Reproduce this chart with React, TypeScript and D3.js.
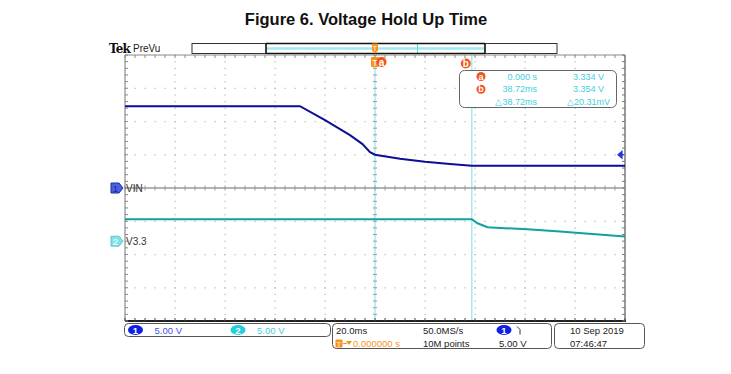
import React, { useEffect, useRef } from "react";
import * as d3 from "d3";

// scope settings
const msPerDiv = 20;
const voltsPerDiv = [5, 5];
const chPosition = [0, -1.6]; // divisions from centre

// channel 1 (VIN) trace
const vinTime = [-100, -30, -20, -10, -5, -2, 0, 10, 20, 30, 38.72, 100];
const vinVolts = [12.3, 12.3, 10.2, 7.95, 6.6, 5.4, 5.0, 4.4, 3.95, 3.6, 3.35, 3.35];

// channel 2 (V3.3) trace
const v33Time = [-100, 38.72, 41, 45, 52, 61, 74, 83, 100];
const v33Volts = [3.3, 3.3, 2.7, 2.1, 1.95, 1.8, 1.45, 1.2, 0.7];

// cursors
const cursorTimes = [0, 38.72];
const cursorNames = ["a", "b"];
const readoutTime = ["0.000 s", "38.72ms", "\u25b338.72ms"];
const readoutVolts = ["3.334 V", "3.354 V", "\u25b320.31mV"];
const triggerLevel = 5.0;

const W = 731;
const H = 374;
const FONT = "'Liberation Sans', Arial, sans-serif";

export default function App() {
  const svgRef = useRef<SVGSVGElement>(null);

  useEffect(() => {
    const svg = d3.select(svgRef.current);
    svg.selectAll("*").remove();

    const x = d3.scaleLinear().domain([-5 * msPerDiv, 5 * msPerDiv]).range([125, 625]);
    const yDiv = d3.scaleLinear().domain([-4, 4]).range([321, 55]);
    const yCh = (ch: number) => (v: number) => yDiv(v / voltsPerDiv[ch] + chPosition[ch]);

    const left = x.range()[0], right = x.range()[1];
    const top = yDiv.range()[1], bottom = yDiv.range()[0];
    const minorX = d3.range(-5, 5.001, 0.2).map((d) => x(d * msPerDiv));
    const minorY = d3.range(-4, 4.001, 0.2).map((d) => yDiv(d));

    svg.append("rect").attr("width", W).attr("height", H).attr("fill", "white");

    // title
    svg.append("text")
      .attr("x", 366).attr("y", 25)
      .attr("text-anchor", "middle")
      .attr("font-family", FONT).attr("font-weight", "bold").attr("font-size", 16.5)
      .attr("fill", "#111")
      .text("Figure 6. Voltage Hold Up Time");

    // Tek PreVu
    svg.append("text").attr("x", 109).attr("y", 52.5)
      .attr("font-family", "'DejaVu Serif', serif").attr("font-weight", "bold")
      .attr("font-size", 12).attr("letter-spacing", -0.8).attr("fill", "#111").text("Tek");
    svg.append("text").attr("x", 133).attr("y", 52)
      .attr("font-family", FONT).attr("font-size", 10).attr("fill", "#222").text("PreVu");

    // record view bar
    const bar = svg.append("g");
    bar.append("rect").attr("x", 192).attr("y", 43.5).attr("width", 365).attr("height", 10)
      .attr("fill", "white").attr("stroke", "#333").attr("stroke-width", 1);
    bar.append("line").attr("x1", 266).attr("x2", 485).attr("y1", 48.5).attr("y2", 48.5)
      .attr("stroke", "#9feaf0").attr("stroke-width", 2.5);
    bar.append("line").attr("x1", 417.5).attr("x2", 417.5).attr("y1", 44).attr("y2", 53)
      .attr("stroke", "#5cd6e0").attr("stroke-width", 1);
    bar.append("path")
      .attr("d", "M266,43.5H485M266,53.5H485M266,43.5V53.5M485,43.5V53.5")
      .attr("stroke", "#111").attr("stroke-width", 1.6).attr("fill", "none");

    // grid dots
    const grid = svg.append("g").attr("fill", "#b4b4b4");
    d3.range(-4, 5).forEach((dv) => {
      if (dv === 0) return;
      minorY.forEach((yy) => {
        grid.append("rect").attr("x", x(dv * msPerDiv) - 0.5).attr("y", yy - 0.5)
          .attr("width", 1.2).attr("height", 1.2);
      });
    });
    d3.range(-3, 4).forEach((dv) => {
      if (dv === 0) return;
      minorX.forEach((xx) => {
        grid.append("rect").attr("x", xx - 0.5).attr("y", yDiv(dv) - 0.5)
          .attr("width", 1.2).attr("height", 1.2);
      });
    });

    // cursors
    cursorTimes.forEach((t) => {
      svg.append("line").attr("x1", x(t)).attr("x2", x(t)).attr("y1", top).attr("y2", bottom)
        .attr("stroke", "#9ae6ee").attr("stroke-width", 1.3);
    });

    // centre crosshair
    const cross = svg.append("g").attr("stroke", "#9a9a9a");
    cross.append("line").attr("x1", left).attr("x2", right).attr("y1", yDiv(0)).attr("y2", yDiv(0))
      .attr("stroke-width", 1.6);
    minorX.forEach((xx) => {
      cross.append("line").attr("x1", xx).attr("x2", xx).attr("y1", yDiv(0) - 2.5).attr("y2", yDiv(0) + 2.5);
    });
    minorY.forEach((yy) => {
      cross.append("line").attr("x1", x(0) - 2).attr("x2", x(0) + 2).attr("y1", yy).attr("y2", yy);
    });

    // frame with ticks
    const frame = svg.append("g");
    frame.append("line").attr("x1", left).attr("x2", right).attr("y1", top).attr("y2", top)
      .attr("stroke", "#8a8a8a");
    frame.append("line").attr("x1", left).attr("x2", left).attr("y1", top).attr("y2", bottom)
      .attr("stroke", "#777");
    frame.append("line").attr("x1", right).attr("x2", right).attr("y1", top).attr("y2", bottom + 1)
      .attr("stroke", "#9a9a9a").attr("stroke-width", 2);
    frame.append("line").attr("x1", left).attr("x2", right + 1).attr("y1", bottom).attr("y2", bottom)
      .attr("stroke", "#222").attr("stroke-width", 2);
    minorX.forEach((xx) => {
      frame.append("line").attr("x1", xx).attr("x2", xx).attr("y1", top).attr("y2", top + 3)
        .attr("stroke", "#888");
      frame.append("line").attr("x1", xx).attr("x2", xx).attr("y1", bottom - 3).attr("y2", bottom)
        .attr("stroke", "#444");
    });
    minorY.forEach((yy) => {
      frame.append("line").attr("x1", left).attr("x2", left + 3).attr("y1", yy).attr("y2", yy)
        .attr("stroke", "#888");
      frame.append("line").attr("x1", right - 3).attr("x2", right).attr("y1", yy).attr("y2", yy)
        .attr("stroke", "#777");
    });

    // traces
    const traces = [
      { t: vinTime, v: vinVolts, ch: 0, color: "#0d0d96" },
      { t: v33Time, v: v33Volts, ch: 1, color: "#12a0a2" },
    ];
    traces.forEach(({ t, v, ch, color }) => {
      const yy = yCh(ch);
      const line = d3.line<number>()
        .x((_, i) => x(t[i]))
        .y((d) => yy(d));
      svg.append("path").datum(v)
        .attr("d", line)
        .attr("fill", "none")
        .attr("stroke", color)
        .attr("stroke-width", 2);
    });

    // trigger level arrow on right
    const ty = yCh(0)(triggerLevel);
    svg.append("path")
      .attr("d", `M${right - 7},${ty}l4,-3.5v7z M${right - 4},${ty}H${right - 1}`)
      .attr("fill", "#2433e0").attr("stroke", "#2433e0").attr("stroke-width", 1.2);

    // channel markers
    const markers = [
      { label: "1", name: "VIN", ch: 0, fill: "#4b5fe0", stroke: "#1d2aa0", text: "#1d2aa0" },
      { label: "2", name: "V3.3", ch: 1, fill: "#7fe3e6", stroke: "#5cc8cc", text: "#ffffff" },
    ];
    markers.forEach((m) => {
      const my = yDiv(chPosition[m.ch]);
      svg.append("path")
        .attr("d", `M111,${my - 5}h8l4,5l-4,5h-8z`)
        .attr("fill", m.fill).attr("stroke", m.stroke).attr("stroke-width", 1);
      svg.append("text").attr("x", 115.5).attr("y", my + 3.5)
        .attr("text-anchor", "middle").attr("font-family", FONT).attr("font-size", 9.5)
        .attr("fill", m.text).text(m.label);
      svg.append("text").attr("x", 126).attr("y", my + 4)
        .attr("font-family", FONT).attr("font-size", 10).attr("fill", "#333").text(m.name);
    });

    // trigger marker T and cursor labels
    const orange = "#f7941d";
    const red = "#f0541e";
    svg.append("path")
      .attr("d", `M${x(0) - 3},43.5h6v7l-3,3l-3,-3z`)
      .attr("fill", orange);
    svg.append("text").attr("x", x(0)).attr("y", 50.5).attr("text-anchor", "middle")
      .attr("font-family", FONT).attr("font-size", 7).attr("fill", "white").text("T");
    svg.append("rect").attr("x", x(0) - 4).attr("y", 57).attr("width", 8).attr("height", 10)
      .attr("rx", 1).attr("fill", orange);
    svg.append("text").attr("x", x(0)).attr("y", 65.5).attr("text-anchor", "middle")
      .attr("font-family", FONT).attr("font-size", 9).attr("fill", "white").text("T");
    const cursorLabelPos = [
      { cx: x(cursorTimes[0]) + 6.5, cy: 62 },
      { cx: x(cursorTimes[1]) - 6, cy: 63.5 },
    ];
    cursorNames.forEach((n, i) => {
      const p = cursorLabelPos[i];
      svg.append("circle").attr("cx", p.cx).attr("cy", p.cy).attr("r", 5).attr("fill", red);
      svg.append("text").attr("x", p.cx).attr("y", p.cy + 3.5).attr("text-anchor", "middle")
        .attr("font-family", FONT).attr("font-weight", "bold").attr("font-size", 10)
        .attr("fill", "white").text(n);
    });

    // cursor readout box
    const cyan = "#3fd0dc";
    svg.append("rect").attr("x", 459.5).attr("y", 70.5).attr("width", 157).attr("height", 37)
      .attr("rx", 5).attr("fill", "white").attr("stroke", "#666").attr("stroke-width", 1);
    readoutTime.forEach((txt, i) => {
      const ry = 79.5 + i * 12.8;
      if (i < 2) {
        svg.append("circle").attr("cx", 481).attr("cy", ry - 3).attr("r", 4.5).attr("fill", red);
        svg.append("text").attr("x", 481).attr("y", ry).attr("text-anchor", "middle")
          .attr("font-family", FONT).attr("font-weight", "bold").attr("font-size", 9)
          .attr("fill", "white").text(cursorNames[i]);
      }
      svg.append("text").attr("x", 537).attr("y", ry).attr("text-anchor", "end")
        .attr("font-family", FONT).attr("font-size", 9).attr("fill", cyan).text(txt);
      svg.append("text").attr("x", 604 + (i === 2 ? 6 : 0)).attr("y", ry).attr("text-anchor", "end")
        .attr("font-family", FONT).attr("font-size", 9).attr("fill", cyan).text(readoutVolts[i]);
    });

    // bottom status boxes
    const boxes = svg.append("g").attr("fill", "none").attr("stroke", "#555").attr("stroke-width", 1);
    boxes.append("rect").attr("x", 124.5).attr("y", 323.5).attr("width", 206).attr("height", 13).attr("rx", 4);
    boxes.append("rect").attr("x", 332.5).attr("y", 323.5).attr("width", 219).attr("height", 25).attr("rx", 4);
    boxes.append("rect").attr("x", 554.5).attr("y", 323.5).attr("width", 90).attr("height", 25).attr("rx", 4);

    const txt = (tx: number, ty: number, s: string, fill: string) =>
      svg.append("text").attr("x", tx).attr("y", ty).attr("font-family", FONT)
        .attr("font-size", 9.5).attr("fill", fill).text(s);
    const chip = (cx: number, cy: number, label: string, fill: string) => {
      svg.append("ellipse").attr("cx", cx).attr("cy", cy).attr("rx", 7.5).attr("ry", 5).attr("fill", fill);
      svg.append("text").attr("x", cx).attr("y", cy + 3.5).attr("text-anchor", "middle")
        .attr("font-family", FONT).attr("font-weight", "bold").attr("font-size", 9.5)
        .attr("fill", "white").text(label);
    };
    chip(135.5, 330, "1", "#1020e0");
    txt(154.5, 333.5, `${voltsPerDiv[0].toFixed(2)} V`, "#4050e8");
    chip(238, 330, "2", "#22d0dc");
    txt(257, 333.5, `${voltsPerDiv[1].toFixed(2)} V`, "#3fd0dc");

    txt(336, 333.5, `${msPerDiv.toFixed(1)}ms`, "#222");
    txt(423, 333.5, "50.0MS/s", "#222");
    chip(504, 330, "1", "#1020e0");
    svg.append("path").attr("d", "M517,326.5l3,3v5").attr("stroke", "#333").attr("fill", "none");
    // trigger position row
    svg.append("rect").attr("x", 335.5).attr("y", 339.5).attr("width", 7).attr("height", 8)
      .attr("rx", 1).attr("fill", orange);
    svg.append("text").attr("x", 339).attr("y", 346.5).attr("text-anchor", "middle")
      .attr("font-family", FONT).attr("font-size", 7).attr("fill", "white").text("T");
    svg.append("path").attr("d", "M343,343.5h4").attr("stroke", orange);
    svg.append("path").attr("d", "M346,341h6l-3,4z").attr("fill", orange);
    txt(353, 346.5, "0.000000 s", orange);
    txt(423, 346.5, "10M points", "#222");
    txt(499, 346.5, `${triggerLevel.toFixed(2)} V`, "#222");

    txt(570, 333.5, "10 Sep  2019", "#222");
    txt(570, 346.5, "07:46:47", "#222");
  }, []);

  return (
    <svg
      ref={svgRef}
      width={W}
      height={H}
      style={{ position: "absolute", left: 0, top: 0, display: "block" }}
    />
  );
}
